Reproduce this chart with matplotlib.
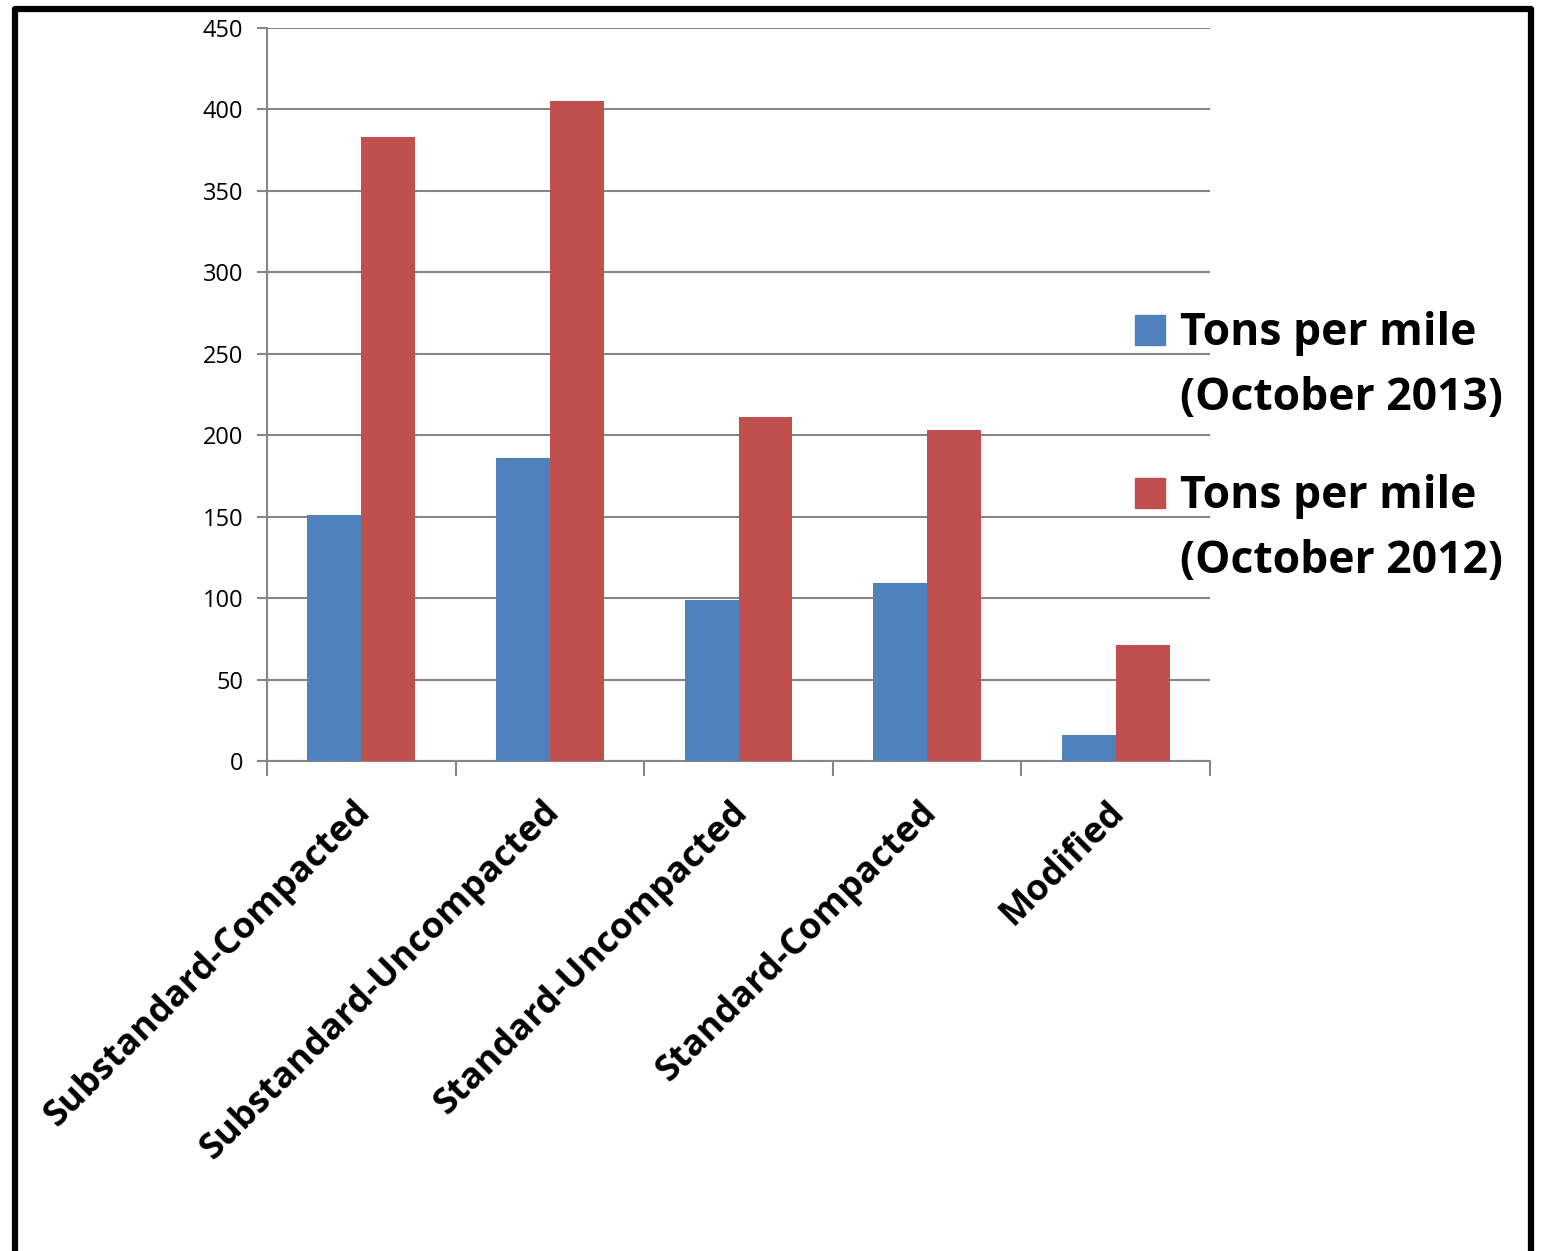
import numpy as np
import matplotlib
matplotlib.use("Agg")
from matplotlib import pyplot as plt
from matplotlib.patches import Rectangle

plt.rcParams['font.family'] = ['Open Sans', 'DejaVu Sans']

# data
categories = ["Substandard-Compacted", "Substandard-Uncompacted",
              "Standard-Uncompacted", "Standard-Compacted", "Modified"]
tons_2013 = [151, 186, 99, 109, 16]
tons_2012 = [383, 405, 211, 203, 71]
series_labels = [["Tons per mile", "(October 2013)"], ["Tons per mile", "(October 2012)"]]
y_ticks = [0, 50, 100, 150, 200, 250, 300, 350, 400, 450]

blue = '#4F81BD'
red = '#C0504D'
grey = '#868686'

W, H = 1547, 1251
fig = plt.figure(figsize=(W / 100, H / 100), dpi=100)
ax = fig.add_axes([267 / W, 1 - 761 / H, (1210 - 267) / W, (761 - 28) / H])

x = np.arange(len(categories))
bw = 1 / 3.5   # excel gap width 150%
ax.bar(x - bw / 2, tons_2013, bw, color=blue, zorder=3)
ax.bar(x + bw / 2, tons_2012, bw, color=red, zorder=3)

ax.set_xlim(-0.5, len(categories) - 0.5)
ax.set_ylim(0, 450)
ax.set_yticks(y_ticks)
ax.tick_params(axis='y', labelsize=17, length=7, width=1.5, color=grey, pad=10)
ax.yaxis.grid(True, color=grey, linewidth=1.5, zorder=0)

# category boundaries as ticks
ax.set_xticks(np.arange(len(categories) + 1) - 0.5)
ax.set_xticklabels([])
ax.tick_params(axis='x', length=11, width=1.5, color=grey)

# rotated category labels
for i, cat in enumerate(categories):
    ax.annotate(cat, xy=(i, 0), xytext=(4, -46), textcoords='offset pixels',
                rotation=45, rotation_mode='anchor', ha='right', va='center',
                fontsize=26, fontweight='bold', annotation_clip=False)

for s in ['top', 'right']:
    ax.spines[s].set_visible(False)
for s in ['left', 'bottom']:
    ax.spines[s].set_color(grey)
    ax.spines[s].set_linewidth(1.5)

# legend, square next to the first line of each entry
leg_colors = [blue, red]
leg_base = [345, 508]   # baseline of first line, px from top
for c, lines, yb in zip(leg_colors, series_labels, leg_base):
    fig.patches.append(Rectangle((1135 / W, 1 - yb / H), 30 / W, 30 / H,
                                 transform=fig.transFigure, color=c))
    for k, line in enumerate(lines):
        fig.text(1180 / W, 1 - (yb + 65 * k) / H, line, fontsize=32,
                 fontweight='bold', va='baseline', ha='left')

# thick black frame round the figure
fig.patches.append(Rectangle((14.5 / W, -0.01), (1531 - 14.5) / W, 1 - 9 / H + 0.01,
                             transform=fig.transFigure, fill=False,
                             edgecolor='black', linewidth=4.5, joinstyle='round'))

fig.savefig("out.png", dpi=100)
